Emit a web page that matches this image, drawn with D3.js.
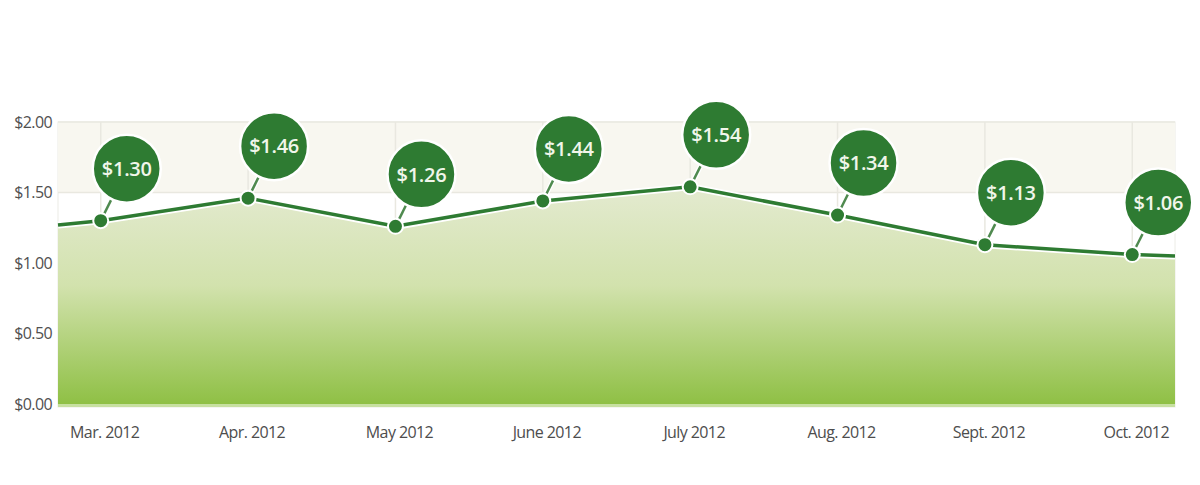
<!DOCTYPE html>
<html>
<head>
<meta charset="utf-8">
<script src="https://cdn.jsdelivr.net/npm/d3@7"></script>
<style>
  body { margin: 0; background: #fff; }
  svg { display: block; }
</style>
</head>
<body>
<svg id="chart" width="1200" height="485"></svg>
<script>
//data
var months = ["Mar. 2012", "Apr. 2012", "May 2012", "June 2012", "July 2012", "Aug. 2012", "Sept. 2012", "Oct. 2012"];
var prices = [1.30, 1.46, 1.26, 1.44, 1.54, 1.34, 1.13, 1.06];
var edgePrices = [1.27, 1.05]; // line runs on past first / last month
var yTicks = [0, 0.5, 1.0, 1.5, 2.0];

//sizes
var plotLeft = 58, plotRight = 1175, plotTop = 122, plotBottom = 404;
var darkGreen = "#2e7b32";

var svg = d3.select("#chart");

var x = d3.scaleLinear()
	.domain([-0.29, months.length - 1 + 0.29])
	.range([plotLeft, plotRight]);

var y = d3.scaleLinear()
	.domain([0, 2])
	.range([plotBottom, plotTop]);

//gradient for the area
var defs = svg.append("defs");
var grad = defs.append("linearGradient")
	.attr("id", "areaGrad")
	.attr("x1", 0).attr("y1", 0).attr("x2", 0).attr("y2", 1);
grad.append("stop").attr("offset", "0%").attr("stop-color", "#e3eacf");
grad.append("stop").attr("offset", "45%").attr("stop-color", "#d2e2ad");
grad.append("stop").attr("offset", "100%").attr("stop-color", "#8fc045");

//plot background
svg.append("rect")
	.attr("x", plotLeft).attr("y", y(2))
	.attr("width", plotRight - plotLeft).attr("height", y(0) - y(2) + 3)
	.attr("fill", "#ffffff")
	.attr("stroke", "#ecece6");

svg.append("rect")
	.attr("x", plotLeft).attr("y", y(2))
	.attr("width", plotRight - plotLeft).attr("height", y(1.5) - y(2))
	.attr("fill", "#f8f7f0");

//grid lines
svg.selectAll(".hgrid")
	.data(yTicks)
	.enter()
	.append("line")
	.attr("class", "hgrid")
	.attr("x1", plotLeft).attr("x2", plotRight)
	.attr("y1", function(d){ return y(d); })
	.attr("y2", function(d){ return y(d); })
	.attr("stroke", "#e9e8e0")
	.attr("stroke-width", 1.5);

svg.selectAll(".vgrid")
	.data(months)
	.enter()
	.append("line")
	.attr("class", "vgrid")
	.attr("x1", function(d, i){ return x(i); })
	.attr("x2", function(d, i){ return x(i); })
	.attr("y1", y(2)).attr("y2", y(0))
	.attr("stroke", "#e9e8e0")
	.attr("stroke-width", 1.5);

//line points incl. edges
var pts = [[x.domain()[0], edgePrices[0]]];
prices.forEach(function(p, i){ pts.push([i, p]); });
pts.push([x.domain()[1], edgePrices[1]]);

var area = d3.area()
	.x(function(d){ return x(d[0]); })
	.y0(y(0))
	.y1(function(d){ return y(d[1]) + 2; });

var line = d3.line()
	.x(function(d){ return x(d[0]); })
	.y(function(d){ return y(d[1]); });

svg.append("path")
	.datum(pts)
	.attr("d", area)
	.attr("fill", "url(#areaGrad)");

//light strip under the area
svg.append("rect")
	.attr("x", plotLeft).attr("y", y(0))
	.attr("width", plotRight - plotLeft).attr("height", 3)
	.attr("fill", "#c7e0a0");

svg.append("path")
	.datum(pts)
	.attr("d", line)
	.attr("fill", "none")
	.attr("stroke", "#ffffff")
	.attr("stroke-width", 7);

svg.append("path")
	.datum(pts)
	.attr("d", line)
	.attr("fill", "none")
	.attr("stroke", darkGreen)
	.attr("stroke-width", 3.5);

//bubbles
var dx = 26, dy = -52, r = 34;
var bubbles = svg.selectAll(".bubble")
	.data(prices)
	.enter()
	.append("g")
	.attr("class", "bubble")
	.attr("transform", function(d, i){ return "translate(" + x(i) + "," + y(d) + ")"; });

bubbles.append("line")
	.attr("x1", 0).attr("y1", 0).attr("x2", dx * 0.55).attr("y2", dy * 0.55)
	.attr("stroke", "#ffffff").attr("stroke-width", 5);
bubbles.append("line")
	.attr("x1", 0).attr("y1", 0).attr("x2", dx * 0.55).attr("y2", dy * 0.55)
	.attr("stroke", "#4f8a4f").attr("stroke-width", 2.5);

bubbles.append("circle")
	.attr("r", 7.5)
	.attr("fill", darkGreen)
	.attr("stroke", "#ffffff")
	.attr("stroke-width", 2);

bubbles.append("circle")
	.attr("cx", dx).attr("cy", dy)
	.attr("r", r)
	.attr("fill", darkGreen)
	.attr("stroke", "#ffffff")
	.attr("stroke-width", 2.5);

bubbles.append("text")
	.attr("x", dx).attr("y", dy)
	.attr("dy", "0.36em")
	.attr("text-anchor", "middle")
	.attr("fill", "#f1f6ea")
	.style("font-family", "'Open Sans', sans-serif")
	.style("font-weight", "600")
	.style("font-size", "20px")
	.style("letter-spacing", "-0.3px")
	.text(function(d){ return "$" + d.toFixed(2); });

//y axis labels
svg.selectAll(".ylab")
	.data(yTicks)
	.enter()
	.append("text")
	.attr("class", "ylab")
	.attr("x", 52)
	.attr("y", function(d){ return y(d); })
	.attr("dy", "0.35em")
	.attr("text-anchor", "end")
	.attr("fill", "#505050")
	.style("font-family", "'Open Sans', sans-serif")
	.style("font-size", "16px")
	.style("letter-spacing", "-0.6px")
	.text(function(d){ return "$" + d.toFixed(2); });

//x axis labels
svg.selectAll(".xlab")
	.data(months)
	.enter()
	.append("text")
	.attr("class", "xlab")
	.attr("x", function(d, i){ return x(i) + 4; })
	.attr("y", 432)
	.attr("dy", "0.35em")
	.attr("text-anchor", "middle")
	.attr("fill", "#4d4d4d")
	.style("font-family", "'Open Sans', sans-serif")
	.style("font-size", "16px")
	.style("letter-spacing", "-0.6px")
	.text(function(d){ return d; });
</script>
</body>
</html>
